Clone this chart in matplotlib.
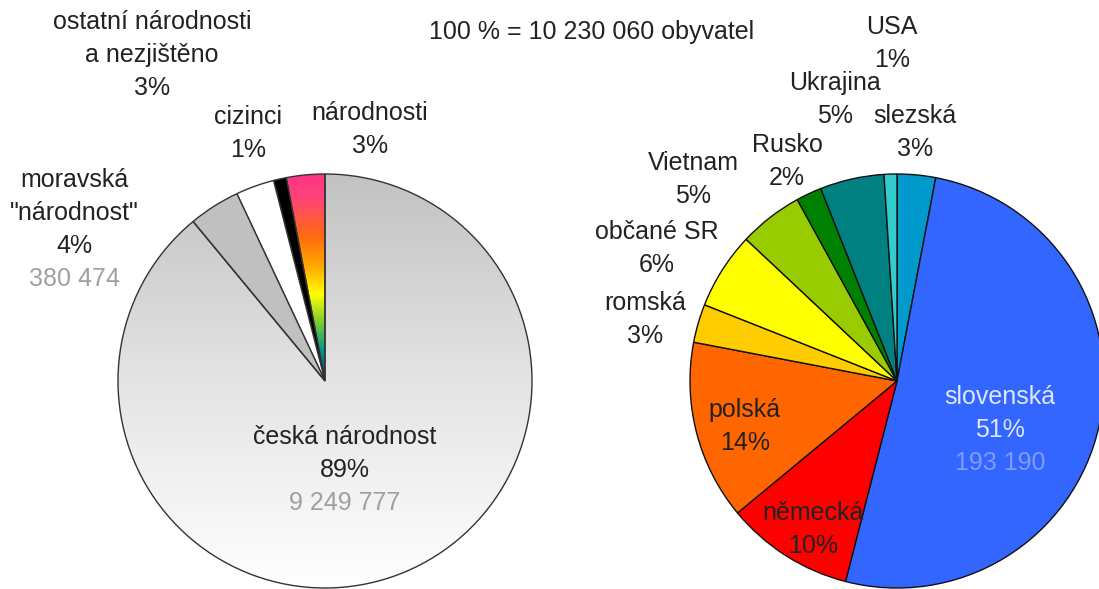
import numpy as np
import matplotlib
matplotlib.use("Agg")
import matplotlib.pyplot as plt
from matplotlib.colors import LinearSegmentedColormap

plt.rcParams['font.family'] = ['Liberation Sans', 'DejaVu Sans']

# levý koláč - národnosti obyvatel ČR
left_names = ['národnosti', 'cizinci', 'ostatní národnosti\na nezjištěno', 'moravská\n"národnost"', 'česká národnost']
left_pct = [3, 1, 3, 4, 89]
left_counts = ['', '', '', '380 474', '9 249 777']

# pravý koláč - ostatní národnosti
right_names = ['slezská', 'slovenská', 'německá', 'polská', 'romská', 'občané SR',
               'Vietnam', 'Rusko', 'Ukrajina', 'USA']
right_pct = [3, 51, 10, 14, 3, 6, 5, 2, 5, 1]
right_counts = ['', '193 190', '', '', '', '', '', '', '', '']

total_text = '100 % = 10 230 060 obyvatel'

# rozložení (pixely obrázku, y shora)
W, H = 1099, 589
left_center = (325, 381)
right_center = (897, 381)
radius = 207
left_label_xy = [(370, 113), (248, 117), (152, 22), (74, 180), (345, 437)]
right_label_xy = [(915, 116), (1000, 397), (813, 513), (745, 410), (645, 303), (657, 232),
                  (693, 163), (787, 145), (835, 83), (892, 27)]
right_colors = ['#0099cc', '#3366ff', '#ff0000', '#ff6600', '#ffcc00', '#ffff00',
                '#99cc00', '#008000', '#008080', '#33cccc']
left_colors = ['none', '#000000', '#ffffff', '#c0c0c0', 'none']
line_gap = 33


def fy(y):
    return H - y


fig = plt.figure(figsize=(W / 100, H / 100), dpi=100)
ax = fig.add_axes([0, 0, 1, 1])

# levý koláč
lw, _ = ax.pie(left_pct, colors=left_colors, startangle=90, counterclock=True,
               center=(left_center[0], fy(left_center[1])), radius=radius,
               wedgeprops=dict(edgecolor='#333333', linewidth=1.0), frame=True)

cx, cy = left_center[0], fy(left_center[1])
ext = [cx - radius, cx + radius, cy - radius, cy + radius]

# přechod šedé pro českou národnost
grad = np.linspace(0, 1, 256).reshape(-1, 1)
gray_cmap = LinearSegmentedColormap.from_list('g', ['#c2c2c2', '#e4e4e4', '#ffffff'])
im = ax.imshow(grad, extent=ext, cmap=gray_cmap, aspect='auto', origin='upper', zorder=0.5)
im.set_clip_path(lw[4])

# duha pro národnosti
rainbow = LinearSegmentedColormap.from_list(
    'r', [(0, '#ff3388'), (0.12, '#ff4477'), (0.3, '#ff6a10'), (0.45, '#ffaa00'),
          (0.58, '#ffff00'), (0.72, '#77cc33'), (0.85, '#009988'), (1.0, '#2233aa')])
grad2 = np.linspace(0, 1, 256).reshape(-1, 1)
im2 = ax.imshow(grad2, extent=[cx - 60, cx + 5, cy, cy + radius], cmap=rainbow,
                aspect='auto', origin='upper', zorder=0.5)
im2.set_clip_path(lw[0])

# pravý koláč
ax.pie(right_pct, colors=right_colors, startangle=90, counterclock=False,
       center=(right_center[0], fy(right_center[1])), radius=radius,
       wedgeprops=dict(edgecolor='#111111', linewidth=1.0), frame=True)

fs = 18


def put_label(x, y, name, pct, count, color='#222222', count_color='#a0a0a0'):
    lines = name.split('\n') + [f'{pct}%']
    for i, t in enumerate(lines):
        ax.text(x, fy(y + i * line_gap), t, ha='center', va='center', fontsize=fs,
                color=color, zorder=5)
    if count:
        ax.text(x, fy(y + len(lines) * line_gap), count, ha='center', va='center',
                fontsize=fs, color=count_color, zorder=5)


for (x, y), n, p, c in zip(left_label_xy, left_names, left_pct, left_counts):
    put_label(x, y, n, p, c)

for (x, y), n, p, c in zip(right_label_xy, right_names, right_pct, right_counts):
    if n == 'slovenská':
        put_label(x, y, n, p, c, color='#dde6ff', count_color='#7f9cff')
    else:
        put_label(x, y, n, p, c)

ax.text(592, fy(32), total_text, ha='center', va='center', fontsize=fs, color='#222222')

ax.set_xlim(0, W)
ax.set_ylim(0, H)
ax.set_aspect('equal')
ax.axis('off')

fig.savefig('out.png', dpi=100, facecolor='white')
